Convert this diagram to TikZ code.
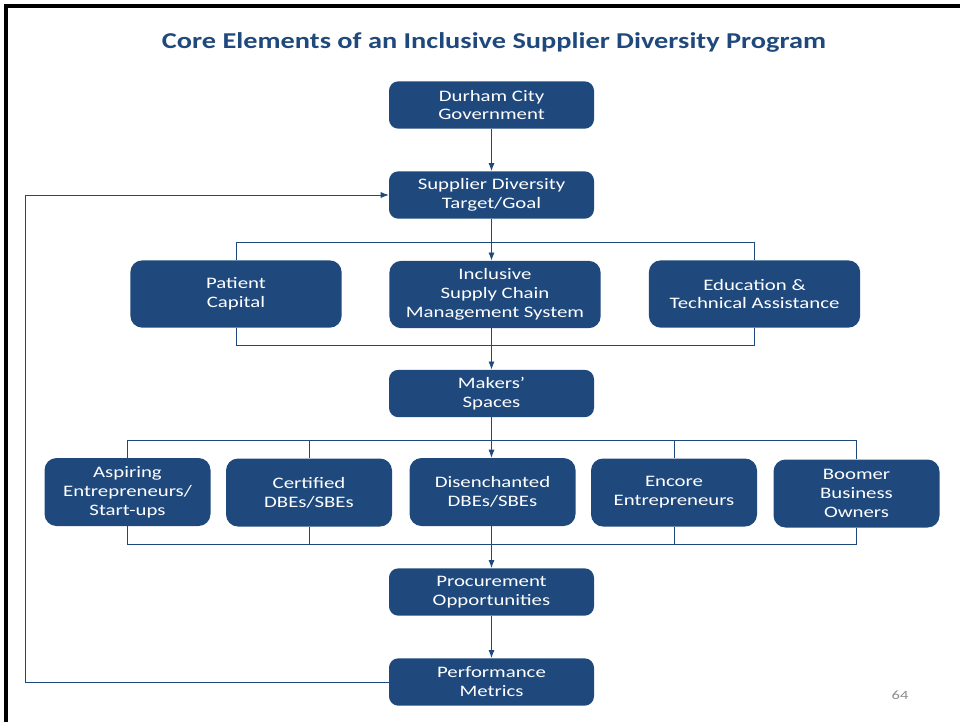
\documentclass[tikz,border=0pt]{standalone}
\usepackage{fontspec}
\setmainfont[FakeStretch=1.3]{Carlito}
\newfontfamily\titlefont[FakeStretch=1.25]{Carlito}
\usetikzlibrary{arrows.meta}

\definecolor{boxblue}{RGB}{31,73,125}
\definecolor{pagegrey}{RGB}{140,140,140}

\tikzset{
  box/.style={fill=boxblue, rounded corners=7pt, text=white, align=center, inner sep=0pt,
    font=\fontsize{12}{14.2}\selectfont},
  smallbox/.style={box, minimum width=153.75pt, minimum height=35.5pt},
  midbox/.style={box, minimum width=158.5pt, minimum height=50.5pt, rounded corners=9pt},
  rowbox/.style={box, minimum width=124.5pt, minimum height=51pt, rounded corners=9pt},
  wire/.style={draw=boxblue, line width=0.6pt},
  flow/.style={wire, -{Latex[length=6pt,width=4.5pt]}}
}

\begin{document}
\begin{tikzpicture}[x=0.75pt,y=0.75pt,yscale=-1,xscale=1]
\useasboundingbox (0,0) rectangle (960,722);

%Frame
\draw[line width=2.4pt] (6,722) -- (6,6) -- (960,6);

% Title
\node (title) at (494,42) [font=\titlefont\bfseries\fontsize{17}{20}\selectfont, text=boxblue] {Core Elements of an Inclusive Supplier Diversity Program};

% Boxes
\node (durham) at (491.5,105) [smallbox] {Durham City\\Government};
\node (supplier) at (491.5,195) [smallbox] {Supplier Diversity\\Target/Goal};
\node (patient) at (236,294) [midbox] {Patient\\Capital};
\node (inclusive) at (495,294.5) [midbox] {Inclusive\\Supply Chain\\Management System};
\node (education) at (754.5,294) [midbox] {Education \&\\Technical Assistance};
\node (makers) at (491.5,393.5) [smallbox] {Makers'\\Spaces};
\node (aspiring) at (127.5,492) [rowbox] {Aspiring\\Entrepreneurs/\\Start-ups};
\node (certified) at (309,492.5) [rowbox] {Certified\\DBEs/SBEs};
\node (disenchanted) at (492.5,492) [rowbox] {Disenchanted\\DBEs/SBEs};
\node (encore) at (674,492.5) [rowbox] {Encore\\Entrepreneurs};
\node (boomer) at (856.5,493.5) [rowbox] {Boomer\\Business\\Owners};
\node (procurement) at (491.5,592) [smallbox] {Procurement\\Opportunities};
\node (performance) at (491.5,682) [smallbox] {Performance\\Metrics};

% Page number
\node (page) at (900,695) [font=\fontsize{9.5}{10}\selectfont, text=pagegrey] {64};

% Bus lines
\coordinate (busA) at (0,242);
\coordinate (busB) at (0,345);
\coordinate (busC) at (0,440);
\coordinate (busD) at (0,544);
\coordinate (back) at (25,0);

% Connectors
\draw[flow] (durham) -- (supplier);
\draw[wire] (patient.north) -- (patient.north |- busA) -- (education.north |- busA) -- (education.north);
\draw[flow] (supplier.south) -- (supplier.south |- inclusive.north);
\draw[wire] (patient.south) -- (patient.south |- busB) -- (education.south |- busB) -- (education.south);
\draw[flow] (makers.north |- inclusive.south) -- (makers.north);

\draw[wire] (aspiring.north) -- (aspiring.north |- busC) -- (boomer.north |- busC) -- (boomer.north);
\draw[wire] (certified.north) -- (certified.north |- busC);
\draw[wire] (encore.north) -- (encore.north |- busC);
\draw[flow] (makers.south) -- (makers.south |- disenchanted.north);
\draw[wire] (aspiring.south) -- (aspiring.south |- busD) -- (boomer.south |- busD) -- (boomer.south);
\draw[wire] (certified.south) -- (certified.south |- busD);
\draw[wire] (encore.south) -- (encore.south |- busD);
\draw[flow] (procurement.north |- disenchanted.south) -- (procurement.north);

\draw[flow] (procurement) -- (performance);
\draw[flow] (performance.west) -- (performance.west -| back) |- (supplier.west);

\end{tikzpicture}
\end{document}
